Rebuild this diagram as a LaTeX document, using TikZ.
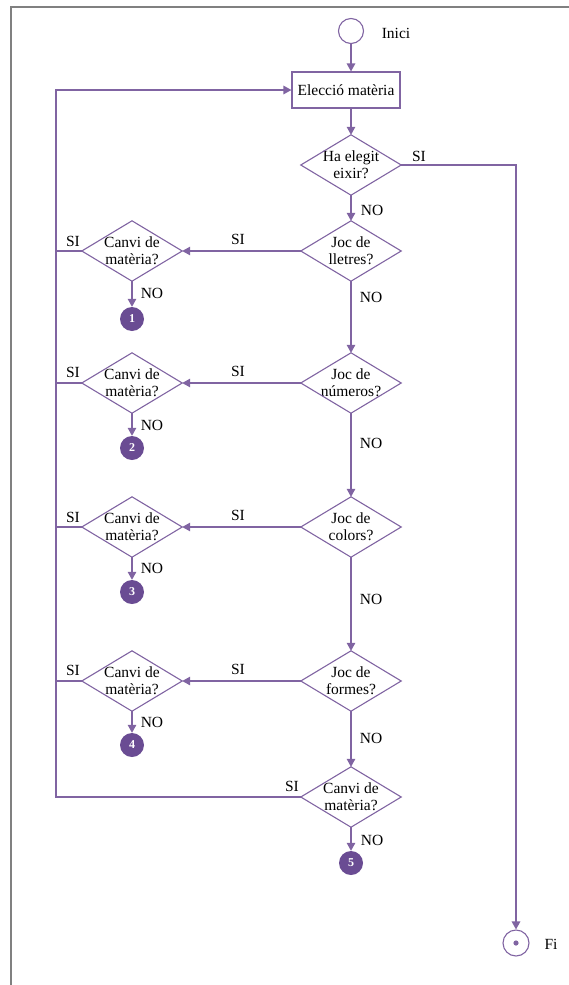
\documentclass[tikz,border=0pt]{standalone}
\usepackage{fontspec}
\setmainfont{Liberation Serif}
\usetikzlibrary{arrows.meta}
\definecolor{lp}{HTML}{8064A2}
\definecolor{dp}{HTML}{6A4C93}
\definecolor{fr}{HTML}{808080}
\begin{document}
\begin{tikzpicture}[x=1pt,y=-1pt,
  txt/.style={font=\fontsize{15.5}{17}\selectfont, inner sep=0pt, align=center},
  dia/.style={txt, minimum width=100pt, minimum height=60pt},
  conn/.style={draw=lp, line width=1.4pt},
  arr/.style={conn, -{Triangle[length=8pt,width=8.5pt]}},
  shp/.style={draw=lp, line width=1.1pt},
  num/.style={circle, fill=dp, minimum size=24pt, inner sep=0pt, text=white, font=\fontsize{12}{12}\selectfont\bfseries},
  lbl/.style={txt}]
\useasboundingbox (0,0) rectangle (569,985);
% frame
\draw[fr, line width=2pt] (11,985) -- (11,7) -- (569,7);

% nodes
\node[circle, shp, minimum size=25pt, inner sep=0pt] (start) at (351,31) {};
\node[txt] (inici) at (396,33) {Inici};
\node[txt, shp, minimum width=108pt, minimum height=36pt] (box) at (346,90) {Elecció matèria};

\node[dia] (d1) at (351,165) {Ha elegit\\eixir?};
\node[dia] (d2) at (351,251) {Joc de\\lletres?};
\node[dia] (d3) at (351,383) {Joc de\\números?};
\node[dia] (d4) at (351,527) {Joc de\\colors?};
\node[dia] (d5) at (351,681) {Joc de\\formes?};
\node[dia] (d6) at (351,797) {Canvi de\\matèria?};

\node[dia] (c1) at (132,251) {Canvi de\\matèria?};
\node[dia] (c2) at (132,383) {Canvi de\\matèria?};
\node[dia] (c3) at (132,527) {Canvi de\\matèria?};
\node[dia] (c4) at (132,681) {Canvi de\\matèria?};

\node[num] (n1) at (132,319) {1};
\node[num] (n2) at (132,448) {2};
\node[num] (n3) at (132,592) {3};
\node[num] (n4) at (132,745) {4};
\node[num] (n5) at (351,863) {5};

\node[circle, shp, minimum size=26pt, inner sep=0pt] (fi) at (516,943) {};
\fill[lp] (fi.center) circle (2.6pt);
\node[txt] (fil) at (551,944) {Fi};

\foreach \n in {d1,d2,d3,d4,d5,d6,c1,c2,c3,c4}
  \draw[shp] (\n.west) -- (\n.north) -- (\n.east) -- (\n.south) -- cycle;

\coordinate (lt) at (56,90);
\coordinate (lb) at (56,797);

% connectors
\draw[arr] (start.south) -- (start.south |- box.north);
\draw[arr] (box.south -| d1) -- (d1.north);
\draw[arr] (d1.east) -| (fi.north);
\draw[arr] (d1.south) -- (d2.north);
\draw[arr] (d2.south) -- (d3.north);
\draw[arr] (d3.south) -- (d4.north);
\draw[arr] (d4.south) -- (d5.north);
\draw[arr] (d5.south) -- (d6.north);
\draw[arr] (d6.south) -- (n5.north);
\draw[arr] (d6.west) -- (lb) -- (lt) -- (box.west);

\draw[arr] (d2.west) -- (c1.east);
\draw[arr] (d3.west) -- (c2.east);
\draw[arr] (d4.west) -- (c3.east);
\draw[arr] (d5.west) -- (c4.east);

\draw[arr] (c1.south) -- (n1.north);
\draw[arr] (c2.south) -- (n2.north);
\draw[arr] (c3.south) -- (n3.north);
\draw[arr] (c4.south) -- (n4.north);

\draw[conn] (c1.west) -- (c1.west -| lt);
\draw[conn] (c2.west) -- (c2.west -| lt);
\draw[conn] (c3.west) -- (c3.west -| lt);
\draw[conn] (c4.west) -- (c4.west -| lt);

% labels
\node[lbl] (s1) at (419,156) {SI};
\node[lbl] (o1) at (372,210) {NO};
\node[lbl] (s2) at (238,239) {SI};
\node[lbl] (o2) at (371,297) {NO};
\node[lbl] (s3) at (238,371) {SI};
\node[lbl] (o3) at (371,443) {NO};
\node[lbl] (s4) at (238,515) {SI};
\node[lbl] (o4) at (371,599) {NO};
\node[lbl] (s5) at (238,669) {SI};
\node[lbl] (o5) at (371,738) {NO};
\node[lbl] (s6) at (292,786) {SI};
\node[lbl] (o6) at (372,840) {NO};

\node[lbl] (t1) at (73,241) {SI};
\node[lbl] (t2) at (73,372) {SI};
\node[lbl] (t3) at (73,517) {SI};
\node[lbl] (t4) at (73,670) {SI};

\node[lbl] (m1) at (152,293) {NO};
\node[lbl] (m2) at (152,425) {NO};
\node[lbl] (m3) at (152,568) {NO};
\node[lbl] (m4) at (152,722) {NO};
\end{tikzpicture}
\end{document}
